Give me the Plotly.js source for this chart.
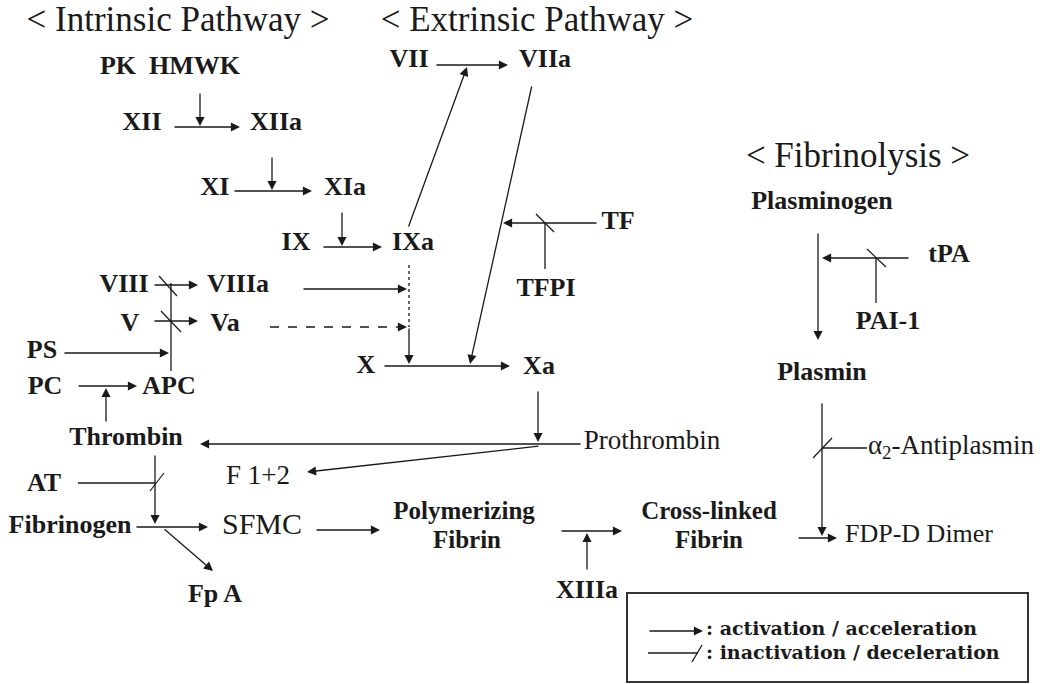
<!DOCTYPE html>
<html><head><meta charset="utf-8">
<script src="https://cdn.plot.ly/plotly-3.0.1.min.js"></script>
<style>html,body{margin:0;padding:0;background:#fff}#chart{width:1040px;height:684px}</style>
</head><body><div id="chart"></div>
<script>
// ---------------- DATA (diagram content) ----------------
const sectionTitles = ['< Intrinsic Pathway >', '< Extrinsic Pathway >', '< Fibrinolysis >'];
const factorLabels = ['PK  HMWK','XII','XIIa','XI','XIa','IX','IXa','VII','VIIa','TF','TFPI',
  'VIII','VIIIa','V','Va','PS','PC','APC','X','Xa','Thrombin','Prothrombin','AT','F 1+2',
  'Fibrinogen','SFMC','Polymerizing','Fibrin','Fp A','XIIIa','Cross-linked','Fibrin',
  'FDP-D Dimer','Plasminogen','tPA','PAI-1','Plasmin','α<sub>2</sub>-Antiplasmin'];
const legendLabels = [': activation / acceleration', ': inactivation / deceleration'];
// activation / acceleration links (source -> target)
const activationLinks = [
  ['XII','XIIa'],['PK HMWK','XII→XIIa'],['XIIa','XI→XIa'],['XI','XIa'],['XIa','IX→IXa'],['IX','IXa'],
  ['IXa','VII→VIIa'],['VII','VIIa'],['VIIa','X→Xa'],['TF','VIIa→Xa'],['VIII','VIIIa'],['V','Va'],
  ['VIIIa','IXa→X'],['IXa','X→Xa'],['X','Xa'],['Xa','Prothrombin→Thrombin'],['Prothrombin','Thrombin'],
  ['Prothrombin','F 1+2'],['PS','APC'],['PC','APC'],['Thrombin','PC→APC'],['Thrombin','Fibrinogen→SFMC'],
  ['Fibrinogen','SFMC'],['Fibrinogen','Fp A'],['SFMC','Polymerizing Fibrin'],['Polymerizing Fibrin','Cross-linked Fibrin'],
  ['XIIIa','Polymerizing→Cross-linked'],['Cross-linked Fibrin','FDP-D Dimer'],['Plasmin','Cross-linked→FDP'],
  ['Plasminogen','Plasmin'],['tPA','Plasminogen→Plasmin']
];
const dashedActivationLinks = [['Va','IXa→X']];
// inactivation / deceleration links (inhibitor -> target)
const inhibitionLinks = [['APC','VIII→VIIIa'],['APC','V→Va'],['TFPI','TF'],['AT','Thrombin'],['PAI-1','tPA'],['α2-Antiplasmin','Plasmin']];

// ---------------- LAYOUT (positions / geometry / styles, pixel space) ----------------
const titlePos = [[178,22],[537,22],[858,158]];
const labelPos = [[170,67],[142,123],[276,123],[215,188],[345,188],[296,243],[413,243],[409,60],[545,60],[618,222],[546,289],
  [124,285],[238,285],[130,324],[225,324],[42,351],[45,387],[169,387],[366,366],[539,367],[126,438],[652,442],[44,484],[258,477],
  [70,526],[262,526],[464,513],[467,542],[215,595],[587,591],[709,513],[709,542],
  [919,535],[822,202],[949,255],[888,322],[822,373],[951,447]];
const regularSizes = {'Prothrombin':27, 'F 1+2':27, 'SFMC':30, 'FDP-D Dimer':26, 'α<sub>2</sub>-Antiplasmin':27};
const twoLine = {'Polymerizing':25, 'Cross-linked':25, 'Fibrin':25};
const labelSize = factorLabels.map(l => regularSizes[l] || twoLine[l] || 26);
const labelWeight = factorLabels.map(l => regularSizes[l] ? 'normal' : 'bold');
const activationPaths = [
  [173,127,240,127],[200,92,200,126],[272,156,272,190],[233,191,312,191],[342,211,342,246],[322,247,382,247],
  [408,228,467,67],[435,65,508,65],[532,85,470,364],[598,223,503,223],[153,285,198,285],[153,321,198,321],
  [302,289,407,289],[409,327,409,364],[383,366,510,366],[538,390,538,442],[582,444,200,444],
  [540,446,307,472],[63,353,169,353],[77,386,137,386],[106,423,106,388],[155,454,155,524],
  [135,527,208,527],[163,528,213,571],[315,530,380,530],[560,531,622,531],
  [587,571,587,533],[797,538,837,538],[822,402,822,536],
  [818,232,818,340],[910,258,822,258]
];
const dashedPaths = [[270,327,407,327]];
const plainLines = [[171,371,171,283],[545,269,545,223],[78,483,155,483],[876,303,876,258],[867,448,822,448]];
const dottedLines = [[409,265,409,327]];
const slashes = [[159,276,177,296],[161,311,181,332],[536,214,554,232],[150,491,164,473],[867,249,886,267],[813,458,832,438]];
const legendBox = [627,593,1028,682];
const legendActivation = [648,631,703,631];
const legendInhibition = [[648,653,698,653],[692,662,702,645]];
const legendTextPos = [[706,630],[706,654]];

// ---------------- BUILD ----------------
const INK = '#1a1a1a';
function segTrace(segs, dash, width){
  const x=[], y=[];
  segs.forEach(s => { x.push(s[0], s[2], null); y.push(s[1], s[3], null); });
  return {type:'scatter', mode:'lines', x, y, line:{color:INK, width:width||1.3, dash:dash||'solid'}, hoverinfo:'skip', showlegend:false};
}
function arrowAnn(s){
  return {x:s[2], y:s[3], ax:s[0], ay:s[1], xref:'x', yref:'y', axref:'x', ayref:'y', text:'',
    showarrow:true, arrowhead:2, arrowsize:1.4, arrowwidth:1.3, arrowcolor:INK, standoff:0, startstandoff:0};
}

const traces = [];
traces.push(segTrace(plainLines));
traces.push(segTrace(dottedLines, 'dot'));
traces.push(segTrace(slashes, 'solid', 1.2));
traces.push(segTrace(dashedPaths, 'dash'));
traces.push(segTrace(legendInhibition));
traces.push({type:'scatter', mode:'text', x:titlePos.map(p=>p[0]), y:titlePos.map(p=>p[1]), text:sectionTitles,
  textposition:'middle center', textfont:{family:'Liberation Serif', size:35, color:INK}, hoverinfo:'skip', showlegend:false});
traces.push({type:'scatter', mode:'text', x:labelPos.map(p=>p[0]), y:labelPos.map(p=>p[1]), text:factorLabels,
  textposition:'middle center', textfont:{family:'Liberation Serif', size:labelSize, weight:labelWeight, color:INK}, hoverinfo:'skip', showlegend:false});
traces.push({type:'scatter', mode:'text', x:legendTextPos.map(p=>p[0]), y:legendTextPos.map(p=>p[1]), text:legendLabels,
  textposition:'middle right', textfont:{family:'DejaVu Serif', size:19, weight:'bold', color:INK}, hoverinfo:'skip', showlegend:false});

const annotations = activationPaths.concat([legendActivation]).map(arrowAnn);
dashedPaths.forEach(s => annotations.push(arrowAnn([s[2]-10, s[3], s[2], s[3]])));

const layout = {
  width:1040, height:684, margin:{l:0,r:0,t:0,b:0}, paper_bgcolor:'#fff', plot_bgcolor:'#fff',
  xaxis:{range:[0,1040], visible:false, fixedrange:true},
  yaxis:{range:[684,0], visible:false, fixedrange:true},
  showlegend:false, annotations,
  shapes:[{type:'rect', xref:'x', yref:'y', x0:legendBox[0], y0:legendBox[1], x1:legendBox[2], y1:legendBox[3],
    line:{color:'#333', width:2}, fillcolor:'rgba(0,0,0,0)'}]
};
Plotly.newPlot('chart', traces, layout, {staticPlot:true, displayModeBar:false});
</script></body></html>
